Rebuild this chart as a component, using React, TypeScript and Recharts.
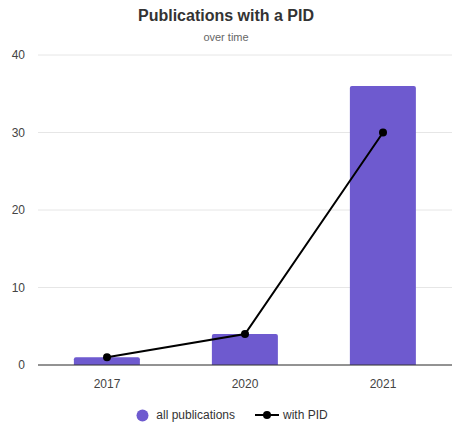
import { Bar, CartesianGrid, ComposedChart, Legend, Line, XAxis, YAxis } from "recharts";

const years = ["2017", "2020", "2021"];
const allPublications = [1, 4, 36];
const withPid = [1, 4, 30];
const yTicks = [0, 10, 20, 30, 40];

const data = years.map((year, i) => ({
  year,
  all: allPublications[i],
  pid: withPid[i],
}));

const PURPLE = "#6e5acf";
const FONT = '"Liberation Sans", Arial, Helvetica, sans-serif';

function LegendContent() {
  return (
    <div
      style={{
        display: "flex",
        justifyContent: "center",
        alignItems: "center",
        gap: 20,
        fontFamily: FONT,
        fontSize: 12,
        color: "#333",
        paddingLeft: 12,
        paddingTop: 11,
      }}
    >
      <span style={{ display: "flex", alignItems: "center", gap: 7 }}>
        <svg width={13} height={13}>
          <circle cx={6.5} cy={6.5} r={6} fill={PURPLE} />
        </svg>
        all publications
      </span>
      <span style={{ display: "flex", alignItems: "center", gap: 4 }}>
        <svg width={24} height={10}>
          <line x1={0} y1={5} x2={24} y2={5} stroke="#000" strokeWidth={2} />
          <circle cx={12} cy={5} r={4} fill="#000" />
        </svg>
        with PID
      </span>
    </div>
  );
}

export default function App() {
  return (
    <div style={{ position: "absolute", left: 0, top: 0, width: 452, height: 425, background: "#fff" }}>
      <div
        style={{
          position: "absolute",
          top: 7,
          left: 0,
          width: 452,
          textAlign: "center",
          fontFamily: FONT,
          fontWeight: 700,
          fontSize: 16,
          color: "#333",
        }}
      >
        Publications with a PID
      </div>
      <div
        style={{
          position: "absolute",
          top: 31,
          left: 0,
          width: 452,
          textAlign: "center",
          fontFamily: FONT,
          fontSize: 11,
          color: "#666",
        }}
      >
        over time
      </div>
      <ComposedChart
        width={452}
        height={425}
        data={data}
        margin={{ top: 55, right: 0, left: 0, bottom: 0 }}
        barCategoryGap="26%"
        style={{ fontFamily: FONT }}
      >
        <CartesianGrid vertical={false} stroke="#e6e6e6" />
        <YAxis
          width={38}
          domain={[0, 40]}
          ticks={yTicks}
          axisLine={false}
          tickLine={false}
          tickSize={0}
          tickMargin={13}
          tick={{ fill: "#444", fontSize: 12 }}
        />
        <XAxis
          dataKey="year"
          height={32}
          axisLine={{ stroke: "#333", strokeWidth: 1 }}
          tickLine={false}
          tickSize={0}
          tickMargin={14}
          tick={{ fill: "#444", fontSize: 12 }}
        />
        <Legend verticalAlign="bottom" height={28} content={() => <LegendContent />} />
        <Bar dataKey="all" fill={PURPLE} radius={[2, 2, 0, 0]} isAnimationActive={false} />
        <Line
          dataKey="pid"
          type="linear"
          stroke="#000"
          strokeWidth={2}
          dot={{ r: 4, fill: "#000", stroke: "#000", strokeWidth: 0 }}
          isAnimationActive={false}
        />
      </ComposedChart>
    </div>
  );
}
